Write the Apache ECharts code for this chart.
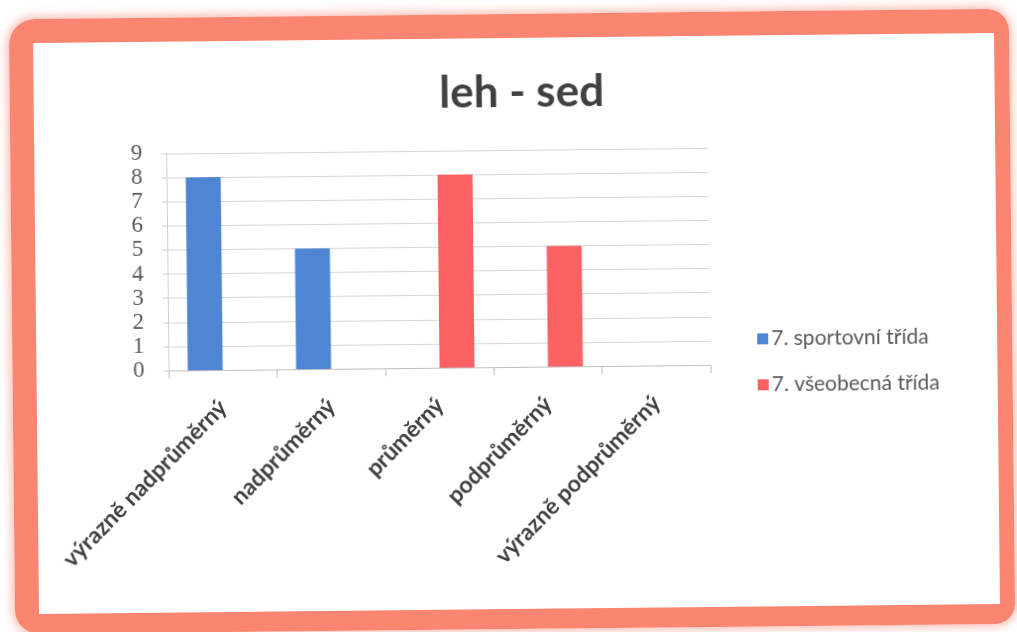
<!DOCTYPE html>
<html>
<head>
<meta charset="utf-8">
<script src="https://cdn.jsdelivr.net/npm/echarts@6/dist/echarts.min.js"></script>
<style>
  html, body { margin: 0; padding: 0; background: #ffffff; }
  #stage { position: relative; width: 1017px; height: 632px; overflow: hidden; background: #ffffff; }
  #frame {
    position: absolute; left: 12px; top: 14px; width: 1000px; height: 615px;
    box-sizing: border-box;
    border-style: solid; border-color: #fa8672;
    border-width: 24px 15px 20px 24px;
    border-radius: 26px 22px 20px 24px;
    box-shadow: 0 0 9px 3px rgba(250, 134, 114, 0.5);
    transform: rotate(-0.6deg);
  }
  #chart { position: absolute; left: 0; top: 0; width: 1017px; height: 632px; transform: rotate(-0.6deg); }
</style>
</head>
<body>
<div id="stage">
  <div id="frame"></div>
  <div id="chart"></div>
</div>
<script>
// Hodnocení testu leh - sed podle kategorií
const titleText = 'leh - sed';
const categories = ['výrazně nadprůměrný', 'nadprůměrný', 'průměrný', 'podprůměrný', 'výrazně podprůměrný'];
const seriesNames = ['7. sportovní třída', '7. všeobecná třída'];
const sportovni = [8, 5, 0, 0, 0];
const vseobecna = [0, 0, 8, 5, 0];
const yMin = 0, yMax = 9, yStep = 1;

const chart = echarts.init(document.getElementById('chart'), null, { renderer: 'canvas' });
chart.setOption({
  animation: false,
  backgroundColor: 'transparent',
  title: {
    text: titleText,
    left: 519, top: 66, textAlign: 'center',
    textStyle: { fontFamily: 'Lato', fontWeight: 'bold', fontSize: 44, color: '#404040' }
  },
  legend: {
    orient: 'vertical',
    left: 752, top: 326,
    itemWidth: 11, itemHeight: 11, itemGap: 25,
    icon: 'rect',
    data: seriesNames,
    textStyle: { fontFamily: 'Lato', fontSize: 21, color: '#595959', padding: [0, 0, 0, -2] }
  },
  grid: { left: 168, right: 307, top: 150, bottom: 265, containLabel: false },
  xAxis: {
    type: 'category',
    data: categories,
    axisLine: { lineStyle: { color: '#bfbfbf', width: 1 } },
    axisTick: { show: true, length: 8, lineStyle: { color: '#bfbfbf' } },
    axisLabel: {
      rotate: 45, margin: 34, interval: 0,
      fontFamily: 'Lato', fontWeight: 'bold', fontSize: 23, color: '#404040'
    }
  },
  yAxis: {
    type: 'value',
    min: yMin, max: yMax, interval: yStep,
    axisLine: { show: true, lineStyle: { color: '#d0d0d0' } },
    axisTick: { show: true, length: 5, lineStyle: { color: '#d0d0d0' } },
    splitLine: { lineStyle: { color: '#d6d6d6', width: 1 } },
    axisLabel: { margin: 24, fontFamily: 'Liberation Serif', fontSize: 23, color: '#595959' }
  },
  series: [
    { name: seriesNames[0], type: 'bar', data: sportovni, barWidth: 35, barGap: '0%', itemStyle: { color: '#4e86d3' } },
    { name: seriesNames[1], type: 'bar', data: vseobecna, barWidth: 35, barGap: '0%', itemStyle: { color: '#fa6163' } }
  ]
});
</script>
</body>
</html>
